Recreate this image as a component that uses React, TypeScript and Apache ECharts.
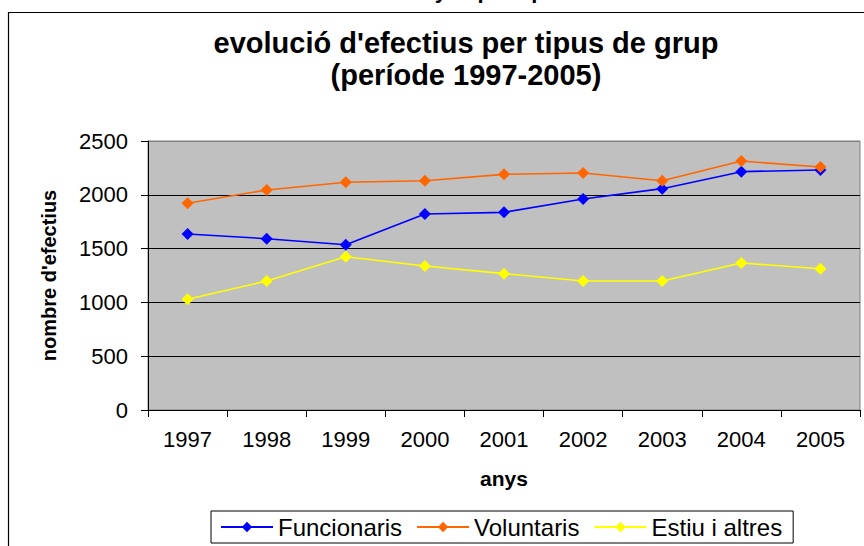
import React, { useEffect, useRef } from "react";
import * as echarts from "echarts";

const years = ["1997", "1998", "1999", "2000", "2001", "2002", "2003", "2004", "2005"];
const funcionaris = [1636, 1592, 1536, 1822, 1837, 1961, 2057, 2215, 2231];
const voluntaris = [1921, 2045, 2116, 2131, 2190, 2203, 2131, 2314, 2258];
const estiu = [1029, 1199, 1425, 1338, 1267, 1199, 1199, 1366, 1313];
const yTicks = { min: 0, max: 2500, interval: 500 };

const FONT = '"Liberation Sans", Arial, sans-serif';

export default function App() {
  const ref = useRef<HTMLDivElement>(null);
  useEffect(() => {
    if (!ref.current) return;
    const chart = echarts.init(ref.current, null, { renderer: "svg" });
    const mk = (name: string, data: number[], color: string) => ({
      name,
      type: "line",
      data,
      symbol: "diamond",
      symbolSize: 12,
      lineStyle: { color, width: 1.6 },
      itemStyle: { color },
    });
    chart.setOption({
      animation: false,
      backgroundColor: "#ffffff",
      textStyle: { fontFamily: FONT },
      graphic: [
        {
          type: "rect",
          shape: { x: 8.5, y: 12.5, width: 900, height: 600 },
          style: { fill: "none", stroke: "#000", lineWidth: 1.2 },
          silent: true,
        },
        {
          type: "text",
          x: 409,
          y: -10,
          style: {
            text: "anys i per tipus",
            fill: "#000",
            font: `bold 22px ${FONT}`,
            align: "left",
            verticalAlign: "middle",
          },
        },
        {
          type: "text",
          x: 466,
          y: 43,
          style: {
            text: "evolució d'efectius per tipus de grup",
            fill: "#000",
            font: `bold 29px ${FONT}`,
            align: "center",
            verticalAlign: "middle",
          },
        },
        {
          type: "text",
          x: 466,
          y: 75,
          style: {
            text: "(període 1997-2005)",
            fill: "#000",
            font: `bold 29px ${FONT}`,
            align: "center",
            verticalAlign: "middle",
          },
        },
      ],
      grid: {
        left: 148,
        right: 4,
        top: 141,
        bottom: 136,
        show: true,
        backgroundColor: "#C0C0C0",
        borderColor: "#808080",
        borderWidth: 1,
      },
      legend: {
        left: 211,
        top: 511,
        itemWidth: 52,
        itemHeight: 13,
        itemGap: 14,
        padding: [4, 11, 4, 9],
        borderColor: "#000",
        borderWidth: 1,
        backgroundColor: "#fff",
        textStyle: { fontSize: 24, color: "#000", fontFamily: FONT },
        data: ["Funcionaris", "Voluntaris", "Estiu i altres"],
      },
      xAxis: {
        type: "category",
        data: years,
        boundaryGap: true,
        name: "anys",
        nameLocation: "middle",
        nameGap: 58,
        nameTextStyle: { fontSize: 21, fontWeight: "bold", color: "#000", fontFamily: FONT },
        axisLine: { lineStyle: { color: "#000", width: 1 } },
        axisTick: { show: true, length: 7, lineStyle: { color: "#000" }, alignWithLabel: false },
        axisLabel: { fontSize: 22, color: "#000", margin: 18, interval: 0, fontFamily: FONT },
        splitLine: { show: false },
      },
      yAxis: {
        type: "value",
        min: yTicks.min,
        max: yTicks.max,
        interval: yTicks.interval,
        name: "nombre d'efectius",
        nameLocation: "middle",
        nameGap: 89,
        nameTextStyle: { fontSize: 20, fontWeight: "bold", color: "#000", fontFamily: FONT },
        axisLine: { show: true, lineStyle: { color: "#000", width: 1 } },
        axisTick: { show: true, length: 7, lineStyle: { color: "#000" } },
        axisLabel: {
          fontSize: 22,
          color: "#000",
          margin: 20,
          fontFamily: FONT,
          formatter: (v: number) => String(v),
        },
        splitLine: {
          show: true,
          lineStyle: { color: ["#000", "#000", "#000", "#000", "#000", "#808080"], width: 1 },
        },
      },
      series: [
        mk("Funcionaris", funcionaris, "#0000FF"),
        mk("Voluntaris", voluntaris, "#FF6600"),
        mk("Estiu i altres", estiu, "#FFFF00"),
      ],
    });
    return () => chart.dispose();
  }, []);
  return (
    <div
      ref={ref}
      style={{ position: "fixed", left: 0, top: 0, width: 864, height: 546 }}
    />
  );
}
